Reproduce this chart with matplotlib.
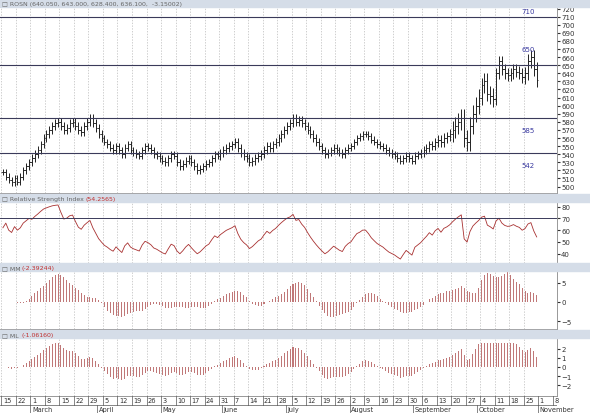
import numpy as np, pandas as pd
import matplotlib
matplotlib.use("Agg")
import matplotlib.pyplot as plt
from matplotlib.patches import Rectangle

closes = [518,512,508,505,510, 506,512,520,525,530, 535,540,545,552,560, 565,570,575,578,580,
 575,570,572,578,580, 575,570,568,575,580, 585,578,572,565,560, 555,552,548,545,550,
 545,540,548,552,545, 542,540,538,545,550, 548,545,540,538,535, 532,530,535,540,538,
 530,525,528,532,535, 530,525,520,522,525, 528,530,535,540,538, 542,545,548,550,552,
 555,548,542,538,535, 530,532,535,538,540, 545,550,548,552,555, 560,565,570,575,578,
 585,580,582,578,575, 570,565,560,555,550, 545,540,542,545,548, 545,542,540,545,548,
 550,555,560,562,565, 565,562,558,555,552, 550,548,545,542,540, 538,535,532,535,538,
 535,532,538,540,542, 545,548,552,550,555, 558,555,560,562,565, 570,575,580,585,560,
 555,575,590,600,610, 625,630,615,612,608, 640,655,645,640,638, 640,645,642,640,635,
 640,655,660,645,632]
week_range = [12,12,14,14,14,14,14,12,12,12,12,12,12,12,12,14,14,14,14,14,14,14,12,12,
              12,12,12,12,12,14,16,30,30,28,20,20,24]
rsi_start = [62, 66, 60, 58, 63, 60, 62, 66, 68, 70]
levels = [710, 650, 585, 542]
level_label_y = [717, 670, 570, 527]

dates = pd.bdate_range("2010-02-15", periods=len(closes))
c = np.array(closes, float)
o = np.r_[c[0], c[:-1]]
rng = np.repeat(week_range, 5)[:len(c)]
hi = np.maximum(o, c) + rng * 0.35
lo = np.minimum(o, c) - rng * 0.35
x = np.arange(len(c))
s = pd.Series(c)
d = s.diff().fillna(0)
up = d.clip(lower=0).ewm(alpha=1/14).mean(); dn = (-d.clip(upper=0)).ewm(alpha=1/14).mean()
rsi = (100 - 100/(1+up/(dn+1e-9))).values
rsi = 55 + (rsi - 55) * 0.75
rsi[:len(rsi_start)] = rsi_start
mm = ((s.rolling(5, min_periods=1).mean() - s.rolling(20, min_periods=1).mean()) * 0.2).values
macd = s.ewm(span=6).mean() - s.ewm(span=16).mean()
ml = (macd / macd.std() * 1.3).clip(-2.6, 2.6).values

W, H = 590, 414
fig = plt.figure(figsize=(W/100, H/100), dpi=100)
fig.patch.set_facecolor("white")
def ax_at(l, t, w, h):
    return fig.add_axes([l/W, 1-(t+h)/H, w/W, h/H])
PW = 557
mondays = [i for i, dt in enumerate(dates) if dt.weekday() == 0]
hdr = "#d5dde8"
def header(t, txt, val):
    fig.patches.append(Rectangle((0, 1-(t+8)/H), 1, 8/H, transform=fig.transFigure, color=hdr, zorder=0))
    fig.text(2/W, 1-(t+4.5)/H, "\u25a1 " + txt, fontsize=4.5, va="center", color="#666")
    if val:
        fig.text((16 + len(txt)*3.0)/W, 1-(t+4.5)/H, val, fontsize=4.5, va="center", color="#c03030")
header(0, "ROSN (640.050, 643.000, 628.400, 636.100,  -3.15002)", None)
header(195, "Relative Strength Index", "(54.2565)")
header(264, "MM", "(-2.39244)")
header(331, "ML", "(-1.06160)")

def style(ax, ylim, ticks):
    ax.set_xlim(-1, 191); ax.set_ylim(*ylim)
    ax.yaxis.tick_right(); ax.set_yticks(ticks)
    ax.tick_params(axis="y", labelsize=5, length=2, pad=1, colors="#333")
    ax.set_xticks([])
    for m in mondays:
        ax.axvline(m - 0.5, color="#bbb", ls=(0, (2, 2)), lw=0.5, zorder=0)
    for sp in ax.spines.values(): sp.set_color("#888"); sp.set_linewidth(0.6)
    ax.spines["left"].set_visible(False)

a1 = ax_at(0, 8, PW, 186)
style(a1, (492, 722), range(500, 721, 10))
a1.vlines(x, lo, hi, color="#222", lw=0.7)
a1.hlines(o, x-0.6, x, color="#222", lw=0.6); a1.hlines(c, x, x+0.6, color="#222", lw=0.6)
for lv, ly in zip(levels, level_label_y):
    a1.axhline(lv, color="#3a3a5a", lw=0.8)
    a1.text(181, ly, str(lv), fontsize=5, color="#3a3aa0", ha="center", va="center")

a2 = ax_at(0, 203, PW, 61)
style(a2, (32, 84), [40, 50, 60, 70, 80])
a2.plot(x, rsi, color="#a83030", lw=0.6)
a2.axhline(70, color="#3a3a5a", lw=0.7)

a3 = ax_at(0, 272, PW, 58)
style(a3, (-7, 8), [-5, 0, 5])
a3.bar(x, mm, width=0.35, color="#c07878")

a4 = ax_at(0, 339, PW, 58)
style(a4, (-3.2, 3.2), [-2, -1, 0, 1, 2])
a4.bar(x, ml, width=0.35, color="#c07878")

a5 = ax_at(0, 397, PW, 17)
a5.set_xlim(-1, 191); a5.set_ylim(0, 2); a5.axis("off")
ext = [dates[-1] + pd.Timedelta(days=k) for k in (3, 10)]
alld = list(dates) + ext
allx = list(x) + [len(c)+0, len(c)+5]
prev_m = None
for xi, dt in zip(allx, alld):
    if dt.weekday() == 0:
        a5.plot([xi-0.5, xi-0.5], [1, 2], color="#555", lw=0.5)
        a5.text(xi, 1.5, str(dt.day), fontsize=4.8, va="center", color="#333")
    if prev_m is not None and dt.month != prev_m:
        a5.plot([xi-0.5, xi-0.5], [0, 1], color="#555", lw=0.5)
        a5.text(xi, 0.5, dt.strftime("%B"), fontsize=4.8, va="center", color="#333")
    prev_m = dt.month
a5.axhline(1, color="#555", lw=0.5)
fig.savefig("out.png", dpi=100)
